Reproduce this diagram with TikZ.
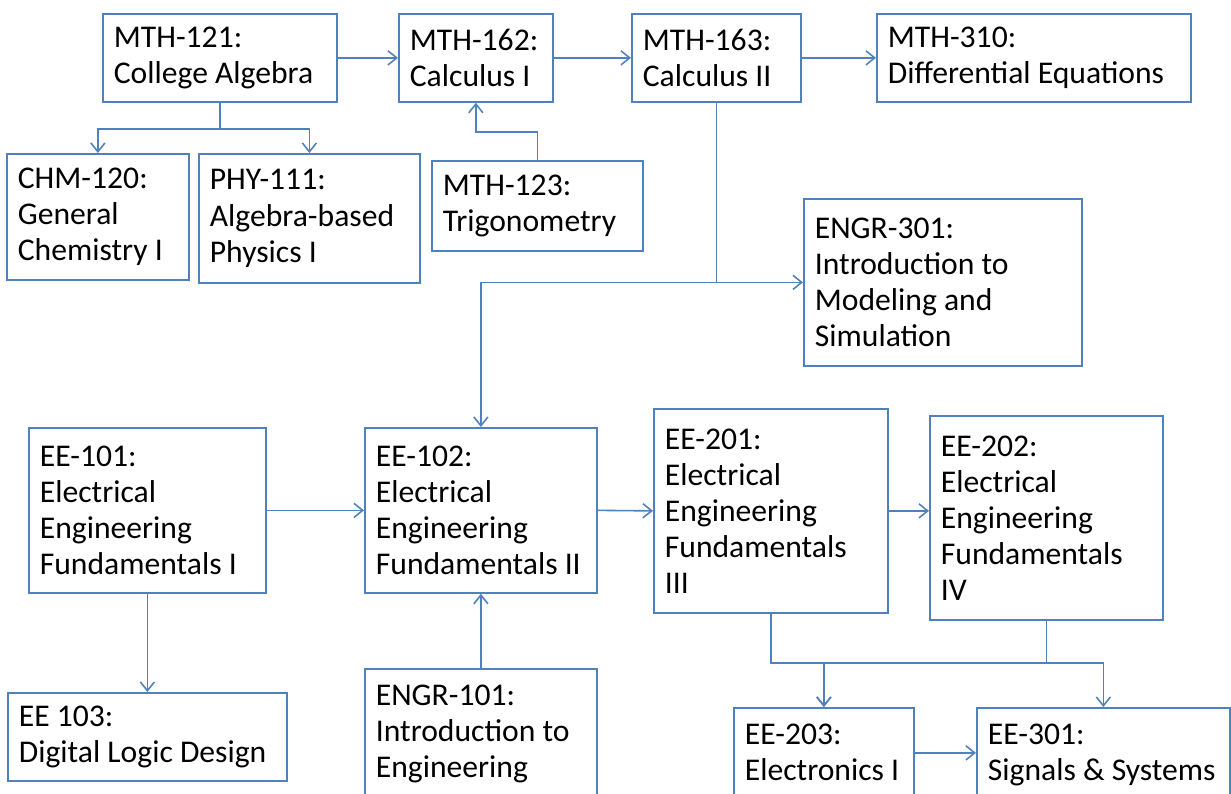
\documentclass[tikz,border=0pt]{standalone}
\usepackage{fontspec}
\setmainfont{Carlito}
\usetikzlibrary{arrows.meta}
\newdimen\upx \upx=0.02cm
\definecolor{boxblue}{RGB}{79,129,189}
\begin{document}
\begin{tikzpicture}[x=0.02cm, y=-0.02cm,
		course/.style={draw=boxblue, line width=1pt, anchor=north west, align=flush left,
			inner xsep=11\upx, inner ysep=0pt, font=\fontsize{18pt}{20.5pt}\selectfont},
		wh/.style 2 args={text width=\the\dimexpr#1\upx-22\upx\relax, minimum height=\the\dimexpr#2\upx\relax},
		topwh/.style 2 args={text width=\the\dimexpr#1\upx-22\upx\relax, text height=\the\dimexpr37\upx\relax,
			text depth=\the\dimexpr#2\upx-37\upx\relax},
		link/.style={draw=boxblue, line width=0.9pt, -{Straight Barb[length=5pt,width=8pt]}}]
	\useasboundingbox (0,0) rectangle (1231,794);
	\clip (0,0) rectangle (1231,794);
	% math row
	\node[course, wh={234}{88}] (mth121) at (102,13) {MTH-121:\\College Algebra};
	\node[course, wh={154}{88}] (mth162) at (398,13) {MTH-162:\\Calculus I};
	\node[course, wh={169}{88}] (mth163) at (631,13) {MTH-163:\\Calculus II};
	\node[course, wh={314}{88}] (mth310) at (876,13) {MTH-310:\\Differential Equations};
	\node[course, wh={182}{126}] (chm120) at (6,153) {CHM-120:\\General\\Chemistry I};
	\node[course, wh={221}{129}] (phy111) at (198,153) {PHY-111:\\Algebra-based\\Physics I};
	\node[course, wh={211}{90}] (mth123) at (431,160) {MTH-123:\\Trigonometry};
	\node[course, wh={278}{167}] (engr301) at (803,198) {ENGR-301:\\Introduction to\\Modeling and\\Simulation};
	% EE courses
	\node[course, wh={237}{165}] (ee101) at (28,427) {EE-101:\\Electrical\\Engineering\\Fundamentals~I};
	\node[course, wh={232}{165}] (ee102) at (364,427) {EE-102:\\Electrical\\Engineering\\Fundamentals~II};
	\node[course, wh={234}{204}] (ee201) at (653,408) {EE-201:\\Electrical\\Engineering\\Fundamentals\\III};
	\node[course, wh={233}{204}] (ee202) at (929,415) {EE-202:\\Electrical\\Engineering\\Fundamentals\\IV};
	\node[course, wh={279}{88}] (ee103) at (7,692) {EE 103:\\Digital~Logic~Design};
	\node[course, topwh={232}{140}] (engr101) at (364,668) {ENGR-101:\\Introduction to\\Engineering};
	\node[course, topwh={180}{90}] (ee203) at (733,707) {EE-203:\\Electronics~I};
	\node[course, topwh={253}{90}] (ee301) at (976,707) {EE-301:\\Signals~\&~Systems};

	\draw[link] (mth121) -- (mth162);
	\draw[link] (mth162) -- (mth163);
	\draw[link] (mth163) -- (mth310);
	\draw[link] (mth121.south) -- ++(0,26) -| (chm120.north);
	\draw[link] (mth121.south) -- ++(0,26) -| (phy111.north);
	\draw[link] (mth123.north) -- ++(0,-28) -| (mth162.south);
	\draw[link] (mth163.south) |- (engr301.west);
	\draw[link] (mth163.south |- engr301.west) -| (ee102.north);
	\draw[link] (ee101.east) -- (ee102.west);
	\draw[link] (ee102.east) -- (ee201.west);
	\draw[link] (ee201.east) -- (ee201.east -| ee202.west);
	\draw[link] (ee101.south) -- (ee103.north);
	\draw[link] (engr101.north) -- (ee102.south);
	\draw[link] (ee201.south) -- ++(0,49) -| (ee203.north);
	\draw[link] (ee202.south) -- ++(0,42) -| (ee203.north);
	\draw[link] (ee202.south) -- ++(0,42) -| (ee301.north);
	\draw[link] (ee203.east) -- (ee301.west);
\end{tikzpicture}
\end{document}
